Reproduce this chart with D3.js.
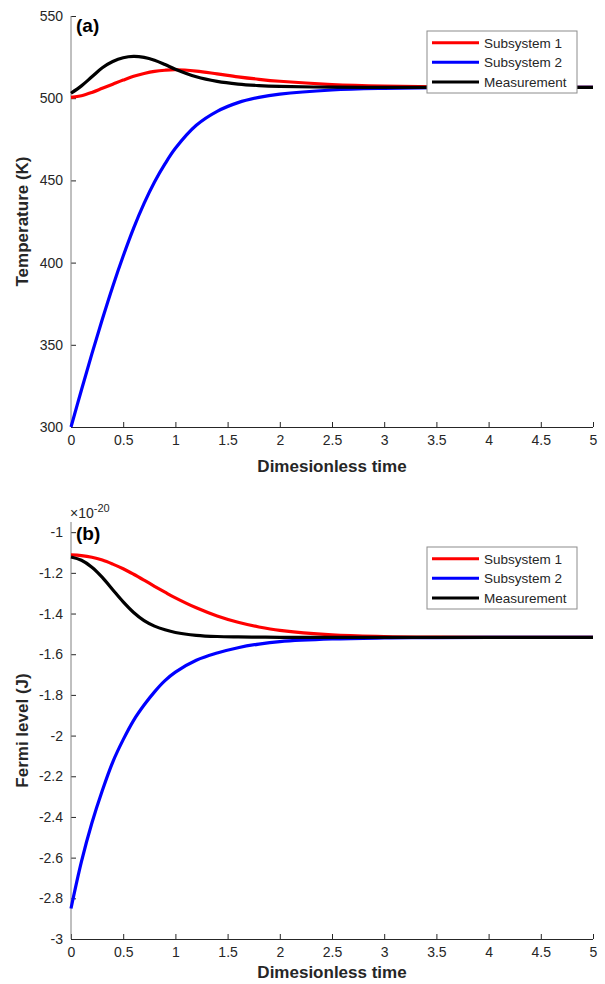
<!DOCTYPE html>
<meta charset="utf-8">

<!-- Load d3.js -->
<script src="https://d3js.org/d3.v7.min.js"></script>

<style>
  body { margin: 0; background: #fff; }
  text { font-family: "Liberation Sans", Arial, Helvetica, sans-serif; fill: #262626; }
  .tick text { font-size: 14px; }
  .axislabel { font-size: 17px; font-weight: bold; }
  .panel { font-size: 19px; font-weight: bold; fill: #000; }
  .legends { font-size: 13.5px; }
</style>

<!-- Create a div where the graph will take place -->
<div id="my_dataviz"></div>

<script>

  ////////////////////// Data ////////////////////////////
  var time = [0, 0.1, 0.2, 0.3, 0.4, 0.5, 0.6, 0.7, 0.8, 0.9, 1.0, 1.2, 1.4, 1.6, 1.8, 2.0, 2.5, 3.0, 3.5, 4.0, 4.5, 5.0];

  // temperature (K)
  var tempSub1 = [500.5, 501.5, 503.5, 506, 508.5, 511, 513.3, 515, 516.3, 517, 517.3, 516.5, 514.8, 513, 511.5, 510.3, 508.3, 507.3, 506.9, 506.7, 506.6, 506.6];
  var tempSub2 = [300, 322.5, 344.5, 365.5, 385.5, 404, 421, 436, 449, 460, 469.5, 483.5, 492, 497.3, 500.5, 502.5, 505, 506, 506.4, 506.55, 506.6, 506.6];
  var tempMeas = [503, 507.5, 513, 518.5, 522.3, 524.6, 525.4, 524.8, 523.1, 520.5, 517.6, 513, 510.2, 508.6, 507.7, 507.2, 506.7, 506.6, 506.6, 506.6, 506.6, 506.6];

  // fermi level (x 1e-20 J)
  var fermiSub1 = [-1.112, -1.115, -1.123, -1.137, -1.157, -1.18, -1.207, -1.236, -1.266, -1.295, -1.323, -1.372, -1.412, -1.443, -1.466, -1.483, -1.505, -1.513, -1.516, -1.517, -1.517, -1.517];
  var fermiSub2 = [-2.85, -2.62, -2.43, -2.27, -2.13, -2.02, -1.925, -1.85, -1.785, -1.73, -1.688, -1.63, -1.594, -1.568, -1.55, -1.538, -1.525, -1.52, -1.518, -1.517, -1.517, -1.517];
  var fermiMeas = [-1.122, -1.138, -1.172, -1.222, -1.283, -1.343, -1.395, -1.435, -1.462, -1.48, -1.493, -1.507, -1.513, -1.515, -1.516, -1.517, -1.517, -1.517, -1.517, -1.517, -1.517, -1.517];

  var xTicks = [0, 0.5, 1, 1.5, 2, 2.5, 3, 3.5, 4, 4.5, 5];
  var tempTicks = [300, 350, 400, 450, 500, 550];
  var fermiTicks = [-3, -2.8, -2.6, -2.4, -2.2, -2, -1.8, -1.6, -1.4, -1.2, -1];

  var seriesNames = ['Subsystem 1', 'Subsystem 2', 'Measurement'];
  var seriesColors = ['#ff0000', '#0000ff', '#000000'];

  ////////////////////// Layout ////////////////////////////
  var width = 605,
      height = 984,
      left = 71,
      right = 593;

  var svg = d3.select('#my_dataviz')
    .append('svg')
      .attr('width', width)
      .attr('height', height);

  function drawPanel(top, bottom, yDomain, yTicks, series, yLabel, xLabelY, tag, legendTop){

    var x = d3.scaleLinear()
        .domain([0, 5])
        .range([left, right]);

    var y = d3.scaleLinear()
        .domain(yDomain)
        .range([bottom, top]);

    var g = svg.append('g');

    // y axis (ticks pointing in)
    var yAxis = g.append('g')
        .attr('transform', 'translate(' + left + ',0)')
        .call(d3.axisLeft(y).tickValues(yTicks).tickSizeInner(-5).tickSizeOuter(0).tickPadding(8)
              .tickFormat(function(d){ return String(+d.toFixed(2)); }));
    yAxis.select('.domain').remove();
    yAxis.selectAll('.tick line').attr('stroke', '#262626');

    // x axis
    var xAxis = g.append('g')
        .attr('transform', 'translate(0,' + bottom + ')')
        .call(d3.axisBottom(x).tickValues(xTicks).tickSizeInner(-5).tickSizeOuter(0).tickPadding(8)
              .tickFormat(function(d){ return String(d); }));
    xAxis.select('.domain').remove();
    xAxis.selectAll('.tick line').attr('stroke', '#262626');

    g.append('line')
      .attr('x1', left).attr('x2', left)
      .attr('y1', top).attr('y2', bottom)
      .attr('stroke', '#808080')
      .attr('stroke-width', 1);

    g.append('line')
      .attr('x1', left).attr('x2', right)
      .attr('y1', bottom + 0.5).attr('y2', bottom + 0.5)
      .attr('stroke', '#262626')
      .attr('stroke-width', 1);

    // curves
    var line = d3.line()
        .x(function(d, i){ return x(time[i]); })
        .y(function(d){ return y(d); })
        .curve(d3.curveCatmullRom.alpha(0.5));

    series.forEach(function(s, i){
      g.append('path')
        .datum(s)
        .attr('fill', 'none')
        .attr('stroke', seriesColors[i])
        .attr('stroke-width', 3.2)
        .attr('d', line);
    });

    // labels
    g.append('text')
      .classed('axislabel', true)
      .attr('x', (left + right) / 2)
      .attr('y', xLabelY)
      .attr('text-anchor', 'middle')
      .text('Dimesionless time');

    g.append('text')
      .classed('axislabel', true)
      .attr('transform', 'translate(28,' + ((top + bottom) / 2) + ') rotate(-90)')
      .attr('text-anchor', 'middle')
      .text(yLabel);

    g.append('text')
      .classed('panel', true)
      .attr('x', 76)
      .attr('y', tag.y)
      .text(tag.text);

    // legend
    var legend = g.append('g')
        .attr('transform', 'translate(427,' + legendTop + ')');

    legend.append('rect')
      .attr('width', 150)
      .attr('height', 62)
      .attr('fill', '#fff')
      .attr('stroke', '#8c8c8c')
      .attr('stroke-width', 1);

    var items = legend.selectAll('.legends')
        .data(seriesNames)
      .enter()
        .append('g')
        .classed('legends', true)
        .attr('transform', function(d, i){ return 'translate(0,' + (11.7 + i * 19.6) + ')'; });

    items.append('line')
      .attr('x1', 5).attr('x2', 52)
      .attr('stroke', function(d, i){ return seriesColors[i]; })
      .attr('stroke-width', 3);

    items.append('text')
      .attr('x', 57)
      .attr('dy', '0.36em')
      .text(function(d){ return d; });

    return g;
  }

  drawPanel(16, 427, [300, 550], tempTicks, [tempSub1, tempSub2, tempMeas],
            'Temperature (K)', 472, {text: '(a)', y: 32}, 31);

  var b = drawPanel(522, 939, [-3, -0.95], fermiTicks, [fermiSub1, fermiSub2, fermiMeas],
            'Fermi level (J)', 978, {text: '(b)', y: 540}, 547);

  // exponent label
  var expo = b.append('text')
      .attr('x', 70)
      .attr('y', 518)
      .style('font-size', '14px');
  expo.append('tspan').text('\u00d710');
  expo.append('tspan')
      .attr('dy', -6)
      .style('font-size', '11px')
      .text('-20');

</script>
